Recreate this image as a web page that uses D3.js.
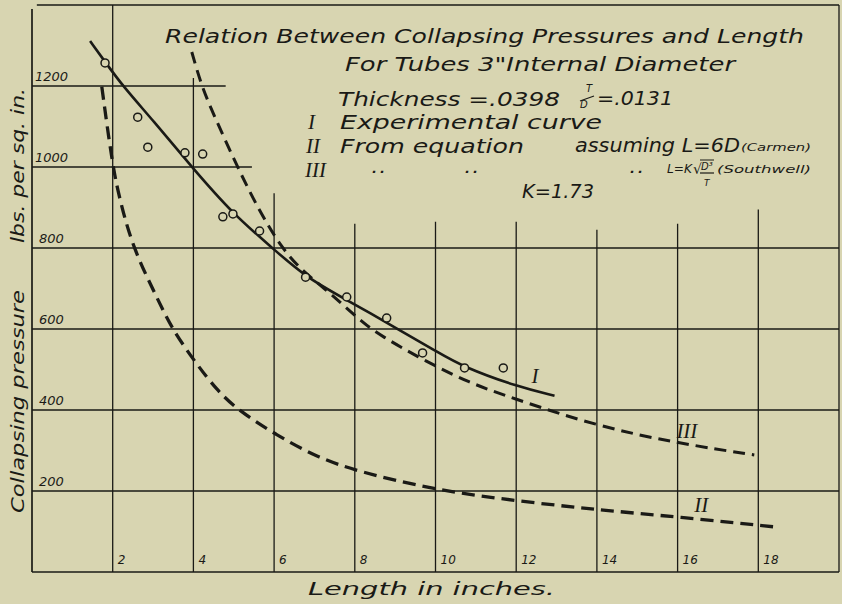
<!DOCTYPE html>
<html>
<head>
<meta charset="utf-8">
<script src="https://cdn.jsdelivr.net/npm/d3@7/dist/d3.min.js"></script>
<style>
    body { margin: 0; background: #d8d5b1; }
    svg { display: block; }
    text { font-family: 'DejaVu Sans', sans-serif; font-style: italic; font-weight: 400; fill: #1a1a16; }
    .roman { font-family: 'Liberation Serif', 'DejaVu Serif', serif; font-style: italic; font-weight: 400; }
</style>
</head>
<body>
<svg id="chart"></svg>
<script>
// tick values of the sheet
const xTicks = [2, 4, 6, 8, 10, 12, 14, 16, 18];
const yTicks = [200, 400, 600, 800, 1000, 1200];

// how far each grid line was ruled (the upper part of the sheet is left open for the title)
const xGridTop = [1400, 1220, 935, 860, 865, 865, 845, 860, 895, 1400];   // for x = 2 .. 20
const yGridEnd = [20, 20, 20, 20, 5.45, 4.8];                            // for y = 200 .. 1200

// experimental points (length in inches, lbs. per sq. in.)
const testLength = [1.81, 2.62, 2.87, 3.79, 4.23, 4.73, 4.98, 5.64, 6.78, 7.8, 8.79, 9.68, 10.72, 11.68];
const testPressure = [1257, 1123, 1049, 1035, 1032, 877, 884, 842, 728, 679, 627, 541, 504, 504];

// I  experimental curve
const curveI = [[1.44, 1311], [1.83, 1257], [2.25, 1200], [3.0, 1115], [3.96, 1000], [4.98, 884],
    [5.96, 800], [6.78, 728], [7.8, 672], [9.03, 602], [10.02, 545], [10.69, 506], [12.05, 457], [12.95, 435]];

// II  from equation, L = 6D (Carmen)
const curveII = [[1.73, 1198], [2.0, 1000], [2.18, 918], [2.5, 800], [3.09, 679], [3.47, 600], [4.06, 516],
    [4.58, 449], [5.1, 400], [6.06, 338], [7.05, 284], [8.04, 249], [10.02, 202], [12.05, 175],
    [14.08, 153], [16.0, 136], [18.44, 111]];

// III  from equation, L = K sqrt(D^3/T) (Southwell)
const curveIII = [[3.96, 1284], [4.2, 1200], [4.53, 1123], [5.1, 998], [5.64, 890], [6.19, 800], [6.68, 745],
    [7.3, 696], [7.7, 660], [8.19, 617], [8.61, 585], [9.78, 519], [10.84, 467], [11.83, 432],
    [14.0, 360], [16.0, 318], [17.9, 289]];

const settings = {
    width: 842,
    height: 604,
    ink: '#1a1a16',
    paper: '#d8d5b1'
};

function prepareScales(settings) {
    settings.x = d3.scaleLinear().domain([0, 20]).range([32, 839]);
    settings.y = d3.scaleLinear().domain([0, 1400]).range([572, 5]);
}

function drawGrid(settings) {
    let g = settings.svg.append('g')
        .attr('stroke', settings.ink)
        .attr('stroke-width', 1.3)
        .attr('fill', 'none');
    let x = settings.x, y = settings.y;

    // frame
    g.append('line').attr('x1', x(0)).attr('x2', x(20)).attr('y1', y(0)).attr('y2', y(0)).attr('stroke-width', 1.7);
    g.append('line').attr('x1', x(0.12)).attr('x2', x(20)).attr('y1', y(1400)).attr('y2', y(1400));
    g.append('line').attr('x1', x(0)).attr('x2', x(0)).attr('y1', y(0)).attr('y2', y(1390)).attr('stroke-width', 1.7);

    let xLines = xTicks.concat([20]);
    g.selectAll('.vgrid')
        .data(xLines).enter().append('line')
        .attr('class', 'vgrid')
        .attr('x1', function (d) { return x(d) })
        .attr('x2', function (d) { return x(d) })
        .attr('y1', y(0))
        .attr('y2', function (d, i) { return y(xGridTop[i]) });

    g.selectAll('.hgrid')
        .data(yTicks).enter().append('line')
        .attr('class', 'hgrid')
        .attr('x1', x(0))
        .attr('x2', function (d, i) { return x(yGridEnd[i]) })
        .attr('y1', function (d) { return y(d) })
        .attr('y2', function (d) { return y(d) });
}

function drawTickLabels(settings) {
    let x = settings.x, y = settings.y;
    settings.svg.selectAll('.xlabel')
        .data(xTicks).enter().append('text')
        .attr('x', function (d) { return x(d) + 5 })
        .attr('y', y(0) - 8)
        .style('font-size', '12px')
        .text(function (d) { return d });

    settings.svg.selectAll('.ylabel')
        .data(yTicks).enter().append('text')
        .attr('x', function (d) { return d >= 1000 ? x(0) + 3 : x(0) + 7 })
        .attr('y', function (d) { return y(d) - 5 })
        .style('font-size', '13px')
        .text(function (d) { return d });
}

function drawCurves(settings) {
    let x = settings.x, y = settings.y;
    let line = d3.line()
        .x(function (d) { return x(d[0]) })
        .y(function (d) { return y(d[1]) })
        .curve(d3.curveBasis);

    settings.svg.append('path')
        .attr('d', line(curveII))
        .attr('fill', 'none')
        .attr('stroke', settings.ink)
        .attr('stroke-width', 3.3)
        .attr('stroke-dasharray', '13,7');

    settings.svg.append('path')
        .attr('d', line(curveIII))
        .attr('fill', 'none')
        .attr('stroke', settings.ink)
        .attr('stroke-width', 3)
        .attr('stroke-dasharray', '12,7');

    settings.svg.append('path')
        .attr('d', line(curveI))
        .attr('fill', 'none')
        .attr('stroke', settings.ink)
        .attr('stroke-width', 2.6);

    settings.svg.selectAll('.point')
        .data(testLength).enter().append('circle')
        .attr('class', 'point')
        .attr('cx', function (d) { return x(d) })
        .attr('cy', function (d, i) { return y(testPressure[i]) })
        .attr('r', 4)
        .attr('fill', settings.paper)
        .attr('stroke', settings.ink)
        .attr('stroke-width', 1.5);

    // numerals on the curves
    let numerals = [['I', 12.38, 467], ['III', 15.97, 331], ['II', 16.41, 148]];
    settings.svg.selectAll('.numeral')
        .data(numerals).enter().append('text')
        .attr('class', 'roman')
        .attr('x', function (d) { return x(d[1]) })
        .attr('y', function (d) { return y(d[2]) })
        .style('font-size', '21px')
        .text(function (d) { return d[0] });
}

function addText(settings, str, x, y, size, length, cls) {
    let t = settings.svg.append('text')
        .attr('x', x)
        .attr('y', y)
        .style('font-size', size + 'px')
        .text(str);
    if (length) {
        t.attr('textLength', length).attr('lengthAdjust', 'spacingAndGlyphs');
    }
    if (cls) {
        t.attr('class', cls);
    }
    return t;
}

function drawTitles(settings) {
    addText(settings, 'Relation Between Collapsing Pressures and Length', 165, 43, 20, 639);
    addText(settings, 'For Tubes 3"Internal Diameter', 345, 71, 20, 390);
    addText(settings, 'Thickness =.0398', 338, 106, 19, 222);

    // T over D
    addText(settings, 'T', 586, 92, 10);
    addText(settings, 'D', 580, 108, 10);
    settings.svg.append('line')
        .attr('x1', 580).attr('y1', 101).attr('x2', 594).attr('y2', 96)
        .attr('stroke', settings.ink).attr('stroke-width', 1.2);
    addText(settings, '=.0131', 597, 105, 19, 76);

    addText(settings, 'I', 308, 129, 21, null, 'roman');
    addText(settings, 'Experimental  curve', 340, 129, 19, 262);
    addText(settings, 'II', 306, 153, 21, null, 'roman');
    addText(settings, 'From  equation', 340, 153, 19, 184);
    addText(settings, 'assuming L=6D', 575, 152, 19, 165);
    addText(settings, '(Carmen)', 741, 151, 11, 70);
    addText(settings, 'III', 305, 177, 21, null, 'roman');

    // ditto marks under the words above
    let dittoX = [372, 465, 630];
    settings.svg.selectAll('.ditto')
        .data(dittoX).enter().append('text')
        .attr('x', function (d) { return d })
        .attr('y', 173)
        .style('font-size', '13px')
        .style('font-weight', 700)
        .style('letter-spacing', '3px')
        .text('..');

    // L = K sqrt(D^3 / T)
    addText(settings, 'L=K', 667, 173, 13, 25);
    addText(settings, '\u221A', 693, 174, 14);
    settings.svg.append('line')
        .attr('x1', 700).attr('y1', 160).attr('x2', 714).attr('y2', 160)
        .attr('stroke', settings.ink).attr('stroke-width', 1);
    addText(settings, 'D\u00B3', 701, 170, 10);
    settings.svg.append('line')
        .attr('x1', 700).attr('y1', 173).attr('x2', 714).attr('y2', 173)
        .attr('stroke', settings.ink).attr('stroke-width', 1.2);
    addText(settings, 'T', 704, 186, 9);
    addText(settings, '(Southwell)', 717, 173, 11, 94);

    addText(settings, 'K=1.73', 522, 198, 19, 72);

    // axis titles
    addText(settings, 'Length  in  inches.', 308, 595, 18, 247);

    settings.svg.append('text')
        .attr('transform', 'translate(24,513) rotate(-90)')
        .style('font-size', '18px')
        .attr('textLength', 223)
        .attr('lengthAdjust', 'spacingAndGlyphs')
        .text('Collapsing pressure');

    settings.svg.append('text')
        .attr('transform', 'translate(24,243) rotate(-90)')
        .style('font-size', '18px')
        .attr('textLength', 155)
        .attr('lengthAdjust', 'spacingAndGlyphs')
        .text('lbs. per sq. in.');
}

function drawChart(settings) {
    settings.svg = d3.select('#chart')
        .attr('width', settings.width)
        .attr('height', settings.height);

    settings.svg.append('rect')
        .attr('width', settings.width)
        .attr('height', settings.height)
        .attr('fill', settings.paper);

    prepareScales(settings);
    drawGrid(settings);
    drawTickLabels(settings);
    drawCurves(settings);
    drawTitles(settings);
}

drawChart(settings);
</script>
</body>
</html>
